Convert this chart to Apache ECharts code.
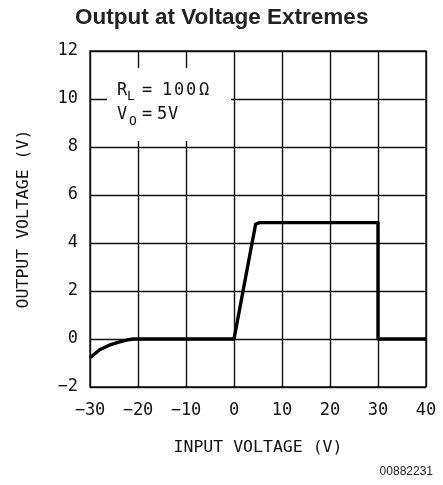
<!DOCTYPE html>
<html>
<head>
<meta charset="utf-8">
<script src="https://cdn.jsdelivr.net/npm/echarts@6/dist/echarts.min.js"></script>
<style>
html,body{margin:0;padding:0;background:#fff;}
#chart{width:443px;height:485px;}
</style>
</head>
<body>
<div id="chart"></div>
<script>
// Data
const inputVoltage = [-30, -28, -26, -24, -22, -21, 0, 4.5, 5.3, 30, 30, 40];
const outputVoltage = [-0.78, -0.45, -0.26, -0.13, -0.03, 0, 0, 4.78, 4.85, 4.85, 0, 0];
const xTicks = [-30, -20, -10, 0, 10, 20, 30, 40];
const yTicks = [-2, 0, 2, 4, 6, 8, 10, 12];
const titleText = 'Output at Voltage Extremes';
const xName = 'INPUT VOLTAGE (V)';
const yName = 'OUTPUT VOLTAGE (V)';
const footerText = '00882231';

const seriesData = inputVoltage.map((x, i) => [x, outputVoltage[i]]);
const monoFont = '"DejaVu Sans Mono", monospace';
const boxFont = '17px "DejaVu Sans Mono"';
const subFont = '13px "DejaVu Sans Mono"';
const fmt = v => String(v).replace('-', '\u2212');

const chart = echarts.init(document.getElementById('chart'), null, {renderer: 'canvas'});
chart.setOption({
  animation: false,
  backgroundColor: '#fff',
  title: {
    text: titleText,
    left: 70,
    top: 1,
    textStyle: {fontFamily: '"Liberation Sans", Arial, sans-serif', fontWeight: 'bold', fontSize: 22.5, color: '#222'}
  },
  grid: {
    left: 90, right: 17, top: 51, bottom: 98,
    show: true, borderColor: '#111', borderWidth: 1.4, backgroundColor: 'transparent'
  },
  xAxis: {
    type: 'value',
    min: xTicks[0], max: xTicks[xTicks.length - 1], interval: 10,
    name: xName, nameLocation: 'middle', nameGap: 52,
    nameTextStyle: {fontFamily: monoFont, fontSize: 16.5, color: '#111'},
    axisLine: {show: false},
    axisTick: {show: false},
    axisLabel: {margin: 15, fontFamily: monoFont, fontSize: 17, color: '#111', formatter: fmt},
    splitLine: {show: true, lineStyle: {color: '#111', width: 1.4}}
  },
  yAxis: {
    type: 'value',
    min: yTicks[0], max: yTicks[yTicks.length - 1], interval: 2,
    name: yName, nameLocation: 'middle', nameGap: 58,
    nameTextStyle: {fontFamily: monoFont, fontSize: 16.5, color: '#111'},
    axisLine: {show: false},
    axisTick: {show: false},
    axisLabel: {margin: 12, fontFamily: monoFont, fontSize: 17, color: '#111', formatter: fmt},
    splitLine: {show: true, lineStyle: {color: '#111', width: 1.4}}
  },
  series: [{
    type: 'line',
    data: seriesData,
    showSymbol: false,
    symbol: 'none',
    lineStyle: {color: '#000', width: 3.4, join: 'round'},
    z: 3
  }],
  graphic: [
    {type: 'rect', shape: {x: 107, y: 68, width: 124, height: 73}, style: {fill: '#fff'}, z: 10},
    {type: 'text', left: 117, top: 82, z: 11, style: {text: 'R', font: boxFont, fill: '#111'}},
    {type: 'text', left: 127, top: 90, z: 11, style: {text: 'L', font: subFont, fill: '#111'}},
    {type: 'text', left: 142, top: 82, z: 11, style: {text: '=', font: boxFont, fill: '#111'}},
    {type: 'text', left: 162, top: 82, z: 11, style: {text: '1', font: boxFont, fill: '#111'}},
    {type: 'text', left: 174, top: 82, z: 11, style: {text: '0', font: boxFont, fill: '#111'}},
    {type: 'text', left: 186, top: 82, z: 11, style: {text: '0', font: boxFont, fill: '#111'}},
    {type: 'text', left: 199, top: 82, z: 11, style: {text: '\u03A9', font: boxFont, fill: '#111'}},
    {type: 'text', left: 117, top: 106, z: 11, style: {text: 'V', font: boxFont, fill: '#111'}},
    {type: 'text', left: 129, top: 115, z: 11, style: {text: 'O', font: subFont, fill: '#111'}},
    {type: 'text', left: 142, top: 106, z: 11, style: {text: '=', font: boxFont, fill: '#111'}},
    {type: 'text', left: 157, top: 106, z: 11, style: {text: '5', font: boxFont, fill: '#111'}},
    {type: 'text', left: 168, top: 106, z: 11, style: {text: 'V', font: boxFont, fill: '#111'}},
    {type: 'text', right: 10, top: 466, z: 11, style: {text: footerText, font: '12px "Liberation Sans", Arial, sans-serif', fill: '#222'}}
  ]
});
</script>
</body>
</html>
